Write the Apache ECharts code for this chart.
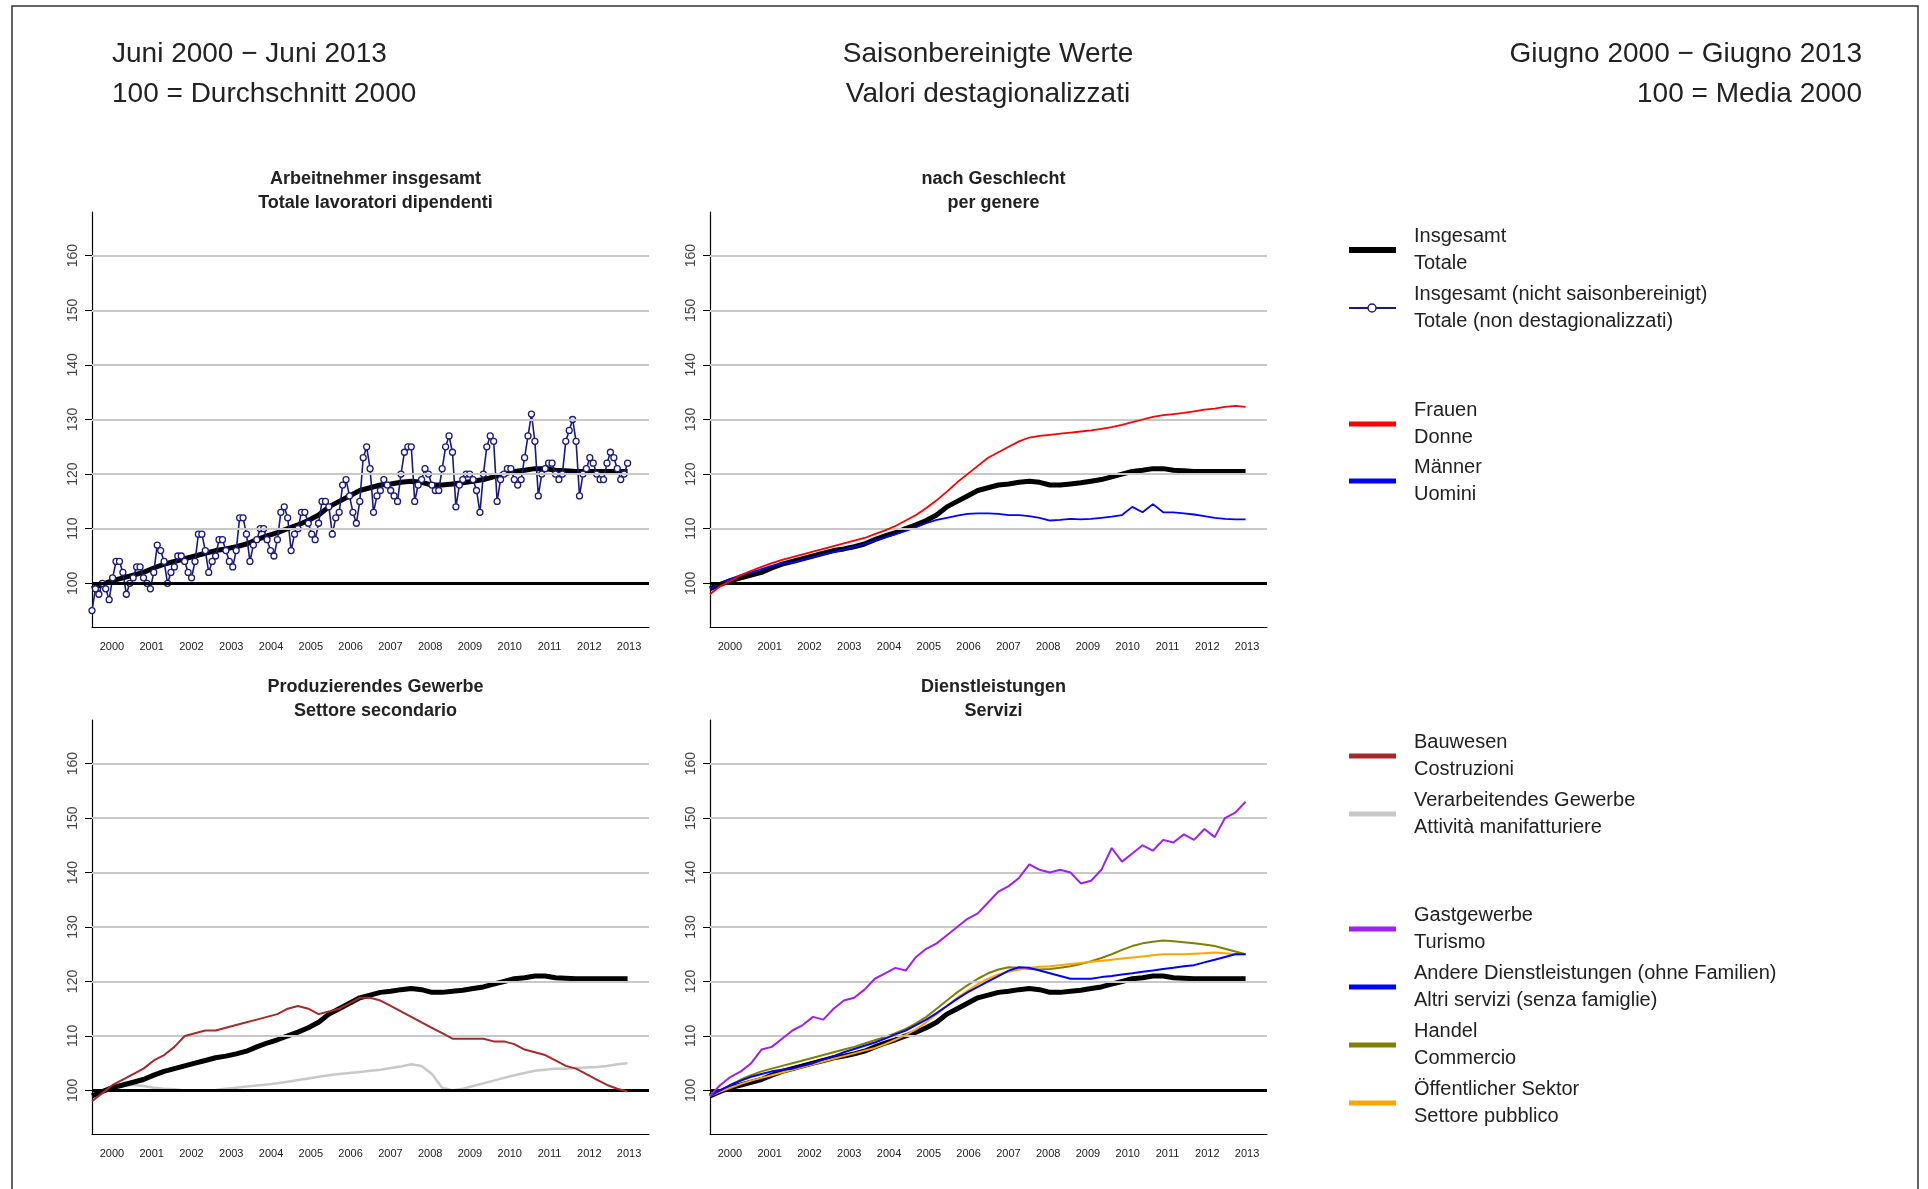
<!DOCTYPE html>
<html>
<head>
<meta charset="utf-8">
<script src="https://cdn.jsdelivr.net/npm/echarts@6/dist/echarts.min.js"></script>
<style>html,body{margin:0;padding:0;background:#fff}#c{width:1928px;height:1189px}</style>
</head>
<body>
<div id="c"></div>
<script>
// year labels of the time axis
var years = ['2000','2001','2002','2003','2004','2005','2006','2007','2008','2009','2010','2011','2012','2013'];
var yTicks = [100, 110, 120, 130, 140, 150, 160];

// monthly, Jun 2000 - Jun 2013 (not seasonally adjusted)
var totalNsa = [95,99,98,100,99,97,101,
  104,104,102,98,100,101,103,103,101,100,99,102,
  107,106,104,100,102,103,105,105,104,102,101,104,
  109,109,106,102,104,105,108,108,106,104,103,106,
  112,112,109,104,107,108,110,110,108,106,105,108,
  113,114,112,106,109,110,113,113,111,109,108,111,
  115,115,114,109,112,113,118,119,116,113,111,115,
  123,125,121,113,116,117,119,118,117,116,115,120,
  124,125,125,115,118,119,121,120,118,117,117,121,
  125,127,124,114,118,119,120,120,119,117,113,120,
  125,127,126,115,119,120,121,121,119,118,119,123,
  127,131,126,116,120,121,122,122,120,119,120,126,
  128,130,126,116,120,121,123,122,120,119,119,122,
  124,123,121,119,120,122];

// quarterly, Jun 2000 - Jun 2013 (seasonally adjusted)
var total = [99,99.8,100.5,101, 101.5,102,102.8,103.5, 104,104.5,105,105.5, 106,106.3,106.7,107.2,
  108,108.7,109.3,110, 110.7,111.5,112.5,114, 115,116,117,117.5, 118,118.2,118.5,118.7,
  118.5,118,118,118.2, 118.4,118.7,119,119.5, 120,120.5,120.7,121, 121,120.7,120.6,120.5,
  120.5,120.5,120.5,120.5, 120.5];
var women = [98,99.5,100.5,101.5, 102.3,103,103.7,104.3, 104.8,105.3,105.8,106.3, 106.8,107.3,107.8,108.3,
  109,109.7,110.5,111.5, 112.5,113.8,115.2,116.8, 118.5,120,121.5,123, 124,125,126,126.7,
  127,127.2,127.4,127.6, 127.8,128,128.3,128.6, 129,129.5,130,130.5, 130.8,131,131.2,131.5,
  131.8,132,132.3,132.5, 132.3];
var men = [99,100,100.8,101.5, 102,102.6,103.2,103.6, 103.8,104.3,104.8,105.3, 105.7,106.2,106.7,107.2,
  107.8,108.4,109,109.6, 110.3,111,111.6,112, 112.4,112.7,112.8,112.8, 112.7,112.5,112.5,112.3,
  112,111.5,111.6,111.8, 111.7,111.8,112,112.2, 112.5,114,113,114.5, 113,113,112.8,112.6,
  112.3,112,111.8,111.7, 111.7];
var construction = [98,99.5,101,102, 103,104,105.5,106.5, 108,110,110.5,111, 111,111.5,112,112.5,
  113,113.5,114,115, 115.5,115,114,114.5, 115,116,117,117, 116.5,115.5,114.5,113.5,
  112.5,111.5,110.5,109.5, 109.5,109.5,109.5,109, 109,108.5,107.5,107, 106.5,105.5,104.5,104,
  103,102,101,100.3, 99.8];
var manufacturing = [99,100,100.8,101, 101,100.8,100.5,100.3, 100.2,100,100,100, 100.1,100.3,100.5,100.7,
  100.9,101.1,101.3,101.6, 101.9,102.2,102.5,102.8, 103,103.2,103.4,103.6, 103.8,104.1,104.4,104.8,
  104.5,103,100.5,100, 100.3,100.8,101.3,101.8, 102.3,102.8,103.2,103.6, 103.8,104,104,104.1,
  104.2,104.3,104.5,104.8, 105];
var tourism = [99,101,102.5,103.5, 105,107.5,108,109.5, 111,112,113.5,113, 115,116.5,117,118.5,
  120.5,121.5,122.5,122, 124.5,126,127,128.5, 130,131.5,132.5,134.5, 136.5,137.5,139,141.5,
  140.5,140,140.5,140, 138,138.5,140.5,144.5, 142,143.5,145,144, 146,145.5,147,146,
  148,146.5,150,151, 153];
var otherServices = [99,100,101,101.8, 102.5,103,103.5,103.8, 104,104.5,105,105.7, 106.3,107,107.6,108.2,
  108.8,109.5,110.3,111, 112,113,114.2,115.5, 116.8,118,119,120, 121,122,122.6,122.5,
  122,121.5,121,120.5, 120.5,120.5,120.8,121, 121.3,121.5,121.8,122, 122.3,122.5,122.8,123,
  123.5,124,124.5,125, 125];
var trade = [99,100,101,102, 102.8,103.5,104,104.5, 105,105.5,106,106.5, 107,107.5,108,108.6,
  109.2,109.8,110.5,111.3, 112.3,113.5,115,116.5, 118,119.3,120.5,121.5, 122.2,122.6,122.5,122.3,
  122.2,122.3,122.5,122.8, 123.2,123.7,124.3,125, 125.8,126.5,127,127.3, 127.5,127.4,127.2,127,
  126.8,126.5,126,125.5, 125];
var publicSector = [99,99.8,100.5,101.2, 101.8,102.3,102.8,103.3, 103.8,104.3,104.8,105.3, 105.8,106.3,106.8,107.3,
  107.8,108.5,109.3,110.2, 111.2,112.5,114,115.5, 117,118.3,119.5,120.5, 121.3,121.8,122.2,122.5,
  122.7,122.8,123,123.2, 123.4,123.6,123.8,124, 124.2,124.4,124.6,124.8, 125,125,125,125.1,
  125.2,125.3,125.2,125, 125];

var START = 2000.42;
function quarterly(a) { return a.map(function (v, i) { return [START + i * 0.25, v]; }); }
function monthly(a) { return a.map(function (v, i) { return [START + i / 12, v]; }); }

var grids = [
  { left: 92, top: 212, width: 557, height: 415 },
  { left: 710, top: 212, width: 557, height: 415 },
  { left: 92, top: 720, width: 557, height: 414 },
  { left: 710, top: 720, width: 557, height: 414 }
];
var titles = [
  ['Arbeitnehmer insgesamt', 'Totale lavoratori dipendenti'],
  ['nach Geschlecht', 'per genere'],
  ['Produzierendes Gewerbe', 'Settore secondario'],
  ['Dienstleistungen', 'Servizi']
];

var xAxis = [], yAxis = [], series = [], title = [];
grids.forEach(function (g, i) {
  xAxis.push({ gridIndex: i, type: 'value', min: START, max: 2013.94, show: false });
  xAxis.push({
    gridIndex: i, type: 'category', data: years, boundaryGap: true, position: 'bottom',
    axisLine: { lineStyle: { color: '#000', width: 1.2 } },
    axisTick: { length: 8, lineStyle: { color: '#000', width: 1.2 } },
    axisLabel: { fontSize: 11, color: '#222', margin: 14, fontFamily: 'Liberation Sans' }
  });
  yAxis.push({
    gridIndex: i, type: 'value', min: 92, max: 168,
    splitLine: { show: false },
    axisLine: { show: true, lineStyle: { color: '#000', width: 1.2 } },
    axisTick: { show: true, customValues: yTicks, length: 7, lineStyle: { color: '#000' } },
    axisLabel: { customValues: yTicks, rotate: 90, fontSize: 14, color: '#444', margin: 12, fontFamily: 'Liberation Sans' }
  });
  title.push({
    text: titles[i][0] + '\n' + titles[i][1], left: g.left + g.width / 2, top: g.top - 50, textAlign: 'center',
    textStyle: { fontSize: 18, fontWeight: 'bold', color: '#222', lineHeight: 24, fontFamily: 'Liberation Sans' }
  });
  series.push({
    type: 'line', xAxisIndex: i * 2, yAxisIndex: i, data: quarterly(total), symbol: 'none', silent: true, z: 1,
    lineStyle: { opacity: 0 },
    markLine: {
      silent: true, symbol: 'none', label: { show: false }, animation: false,
      data: [110, 120, 130, 140, 150, 160].map(function (v) {
        return { yAxis: v, lineStyle: { color: '#c8c8c8', width: 2, type: 'solid' } };
      }).concat([{ yAxis: 100, lineStyle: { color: '#000', width: 3, type: 'solid' } }])
    }
  });
});

function line(i, data, color, width, z) {
  series.push({ type: 'line', xAxisIndex: i * 2, yAxisIndex: i, data: data, symbol: 'none', z: z || 3,
    lineStyle: { color: color, width: width } });
}
// panel 1
line(0, quarterly(total), '#000', 5, 3);
series.push({ type: 'line', xAxisIndex: 0, yAxisIndex: 0, data: monthly(totalNsa), z: 4,
  symbol: 'circle', symbolSize: 6, itemStyle: { color: '#fff', borderColor: '#1a1a80', borderWidth: 1.3 },
  lineStyle: { color: '#1a1a80', width: 1.6 } });
// panel 2
line(1, quarterly(total), '#000', 5, 3);
line(1, quarterly(men), '#0000ff', 1.8, 4);
line(1, quarterly(women), '#ff0000', 1.8, 5);
// panel 3
line(2, quarterly(manufacturing), '#c8c8c8', 2.5, 3);
line(2, quarterly(total), '#000', 5, 4);
line(2, quarterly(construction), '#a52a2a', 2, 5);
// panel 4
line(3, quarterly(total), '#000', 5, 3);
line(3, quarterly(trade), '#808000', 2, 4);
line(3, quarterly(publicSector), '#ffa500', 2, 5);
line(3, quarterly(otherServices), '#0000ff', 2, 6);
line(3, quarterly(tourism), '#a020f0', 2, 7);

// legend entries
var legend = [
  ['Insgesamt', 'Totale', '#000', 6, 250, false],
  ['Insgesamt (nicht saisonbereinigt)', 'Totale (non destagionalizzati)', '#1a1a80', 2, 308, true],
  ['Frauen', 'Donne', '#ff0000', 5, 424, false],
  ['Männer', 'Uomini', '#0000ff', 5, 481, false],
  ['Bauwesen', 'Costruzioni', '#a52a2a', 5, 756, false],
  ['Verarbeitendes Gewerbe', 'Attività manifatturiere', '#c8c8c8', 5, 814, false],
  ['Gastgewerbe', 'Turismo', '#a020f0', 5, 929, false],
  ['Andere Dienstleistungen (ohne Familien)', 'Altri servizi (senza famiglie)', '#0000ff', 5, 987, false],
  ['Handel', 'Commercio', '#808000', 5, 1045, false],
  ['Öffentlicher Sektor', 'Settore pubblico', '#ffa500', 5, 1103, false]
];
var graphic = [
  { type: 'rect', shape: { x: 12, y: 6, width: 1906, height: 1200 }, style: { fill: 'none', stroke: '#333', lineWidth: 1.5 } },
  { type: 'text', left: 112, top: 34, style: { text: 'Juni 2000 − Juni 2013\n100 = Durchschnitt 2000', font: '28px "Liberation Sans"', fill: '#222', lineHeight: 40 } },
  { type: 'text', x: 988, y: 34, style: { text: 'Saisonbereinigte Werte\nValori destagionalizzati', font: '28px "Liberation Sans"', fill: '#222', lineHeight: 40, textAlign: 'center' } },
  { type: 'text', x: 1862, y: 34, style: { text: 'Giugno 2000 − Giugno 2013\n100 = Media 2000', font: '28px "Liberation Sans"', fill: '#222', lineHeight: 40, textAlign: 'right' } }
];
legend.forEach(function (e) {
  graphic.push({ type: 'line', shape: { x1: 1349, y1: e[4], x2: 1396, y2: e[4] }, style: { stroke: e[2], lineWidth: e[3] } });
  if (e[5]) graphic.push({ type: 'circle', shape: { cx: 1372, cy: e[4], r: 4 }, style: { fill: '#fff', stroke: e[2], lineWidth: 1.5 } });
  graphic.push({ type: 'text', x: 1414, y: e[4] - 27, style: { text: e[0] + '\n' + e[1], font: '20px "Liberation Sans"', fill: '#222', lineHeight: 27 } });
});

var chart = echarts.init(document.getElementById('c'));
chart.setOption({
  animation: false,
  backgroundColor: '#fff',
  title: title,
  grid: grids,
  xAxis: xAxis,
  yAxis: yAxis,
  series: series,
  graphic: graphic
});
</script>
</body>
</html>
